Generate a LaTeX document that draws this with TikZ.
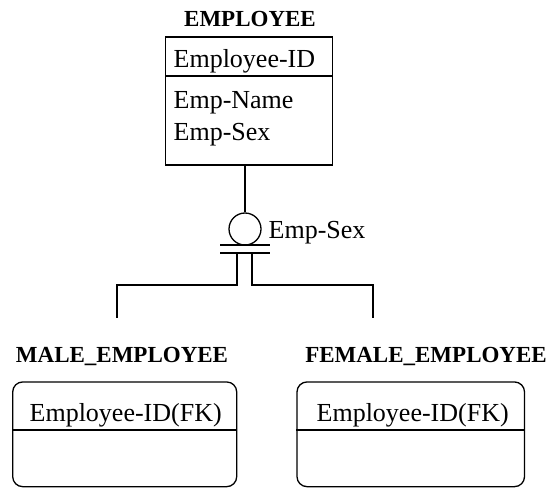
\documentclass[tikz,border=0pt]{standalone}
\usepackage{fontspec}
\setmainfont{Liberation Serif}
\begin{document}
\begin{tikzpicture}[x=1pt,y=-1pt,
  line width=1.3pt,
  title/.style={font=\fontsize{23}{26}\selectfont\bfseries, inner sep=0pt, anchor=base},
  attr/.style={font=\fontsize{26}{30}\selectfont, inner sep=0pt, anchor=base west},
  entity/.style={draw, inner sep=0pt},
  dependent/.style={draw, rounded corners=10pt, inner sep=0pt},
  disc/.style={draw, circle, minimum size=32pt, inner sep=0pt}]
\useasboundingbox (0,0) rectangle (553,489);

% parent entity
\node[title] (empT) at (250,27) {EMPLOYEE};
\node[entity, minimum width=167pt, minimum height=128pt] (emp) at (249.2,101) {};
\coordinate (empDiv) at (166,76);
\draw (empDiv) -- (empDiv -| emp.east);
\node[attr] (empId) at (173,68) {Employee-ID};
\node[attr] (empName) at (173,108.5) {Emp-Name};
\node[attr] (empSex) at (173,140) {Emp-Sex};

% category symbol with discriminator
\node[disc] (cat) at (245,229) {};
\node[attr] (disc) at (268,238) {Emp-Sex};
\draw (cat.north |- emp.south) -- (cat.north);
\coordinate (barA) at (245,245);
\coordinate (barB) at (245,253);
\draw ([xshift=-25pt]barA) -- ([xshift=25pt]barA);
\draw ([xshift=-25pt]barB) -- ([xshift=25pt]barB);

% branches to the subtypes
\coordinate (jl) at (237,253);
\coordinate (jr) at (252,253);
\coordinate (ml) at (117,318);
\coordinate (fr) at (373,318);
\draw (jl) -- ++(0,32) -| (ml);
\draw (jr) -- ++(0,32) -| (fr);

% subtype entities
\node[title] (maleT) at (122,362) {MALE\_EMPLOYEE};
\node[dependent, minimum width=224pt, minimum height=104.7pt] (male) at (124.7,434.3) {};
\draw (male.west |- 0,430) -- (male.east |- 0,430);
\node[attr] (maleId) at (29,421) {Employee-ID(FK)};

\node[title] (femaleT) at (426,362) {FEMALE\_EMPLOYEE};
\node[dependent, minimum width=227.5pt, minimum height=104.7pt] (female) at (410.75,434.3) {};
\draw (female.west |- 0,430) -- (female.east |- 0,430);
\node[attr] (femaleId) at (316,421) {Employee-ID(FK)};
\end{tikzpicture}
\end{document}
